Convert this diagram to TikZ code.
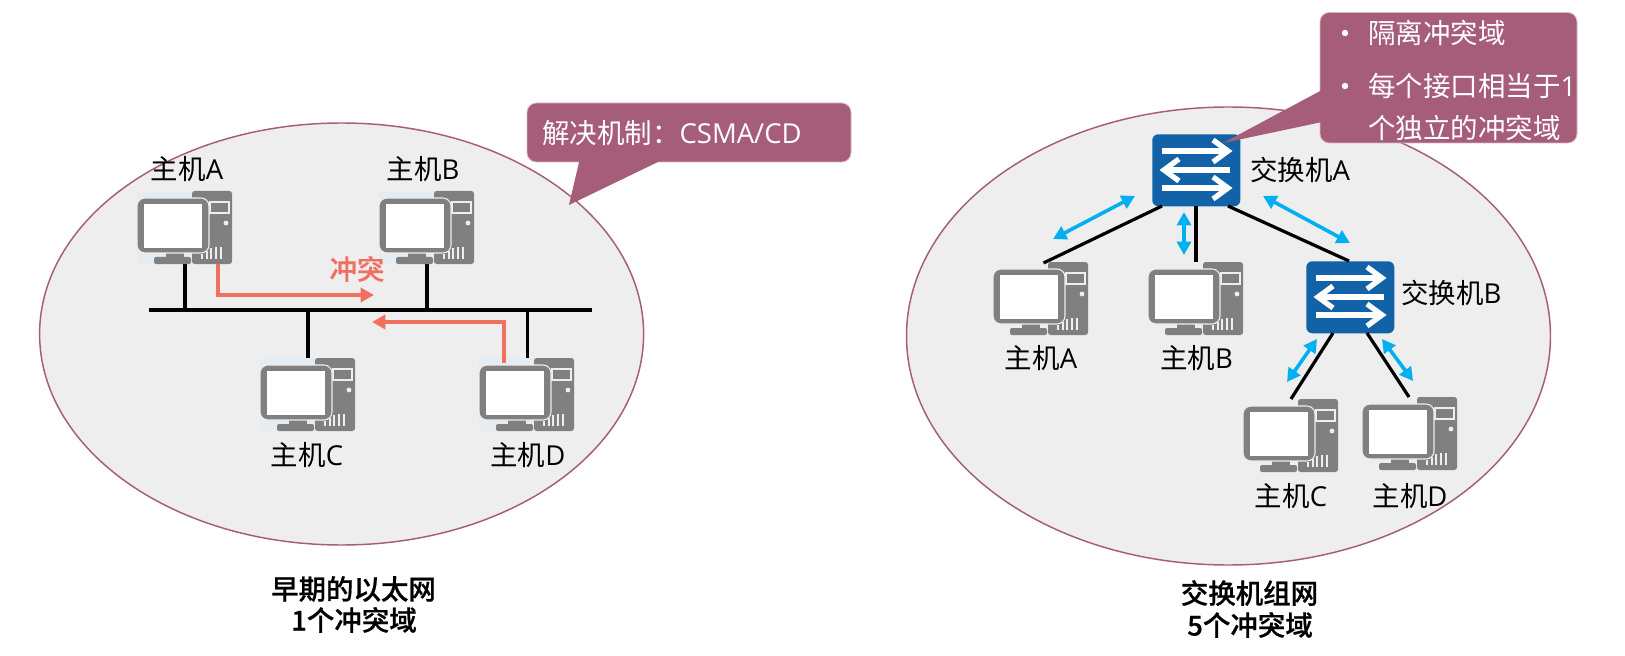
\documentclass[tikz,border=0pt]{standalone}
\usepackage{fontspec}
\setmainfont{Noto Sans CJK SC}
\newfontfamily\capfont[UprightFont={* Medium},FakeBold=0.6]{Noto Sans CJK SC}
\newfontfamily\lat{Open Sans}
\usetikzlibrary{arrows.meta}
\definecolor{plum}{HTML}{A65D7A}
\definecolor{dombg}{HTML}{EEEEEE}
\definecolor{pcgray}{HTML}{808080}
\definecolor{pctint}{HTML}{E6EDF2}
\definecolor{swblue}{HTML}{1262A8}
\definecolor{flowc}{HTML}{00B0F0}
\definecolor{clash}{HTML}{F0705F}
\tikzset{
  x=0.75pt,y=-0.75pt,
  domainshape/.style={draw=plum,line width=1.1pt,fill=dombg},
  lbl/.style={font=\fontsize{20.6}{24}\selectfont,text=black,inner sep=0pt},
  captext/.style={font=\fontsize{20.6}{24}\selectfont\capfont,text=black,inner sep=0pt},
  calltext/.style={font=\fontsize{20.6}{24}\selectfont,text=white,inner sep=0pt,anchor=west},
  callbox/.style={fill=plum,draw=plum!45!white,line width=0.6pt,rounded corners=7pt},
  wire/.style={draw=black,line width=2.4pt},
  busline/.style={draw=black,line width=3.7pt},
  clasharrow/.style={draw=clash,line width=3.5pt,-{Triangle[length=10pt,width=10.5pt]}},
  flowarrow/.style={draw=flowc,line width=2.7pt,{Triangle[length=10pt,width=10.5pt]}-{Triangle[length=10pt,width=10.5pt]}},
  swbox/.style={fill=swblue,rounded corners=4.5pt,minimum width=66pt,minimum height=54pt,inner sep=0pt,anchor=north west},
  swarrow/.style={draw=white,line width=4pt},
  pc/.pic={
    \fill[pcgray,rounded corners=2pt] (55,0) rectangle (95,73);
    \draw[dombg,line width=.9pt] (73,11) rectangle (92,22);
    \fill[dombg] (89,32) circle (2.4);
    \foreach \xx/\yy in {65/63,70/60,74/57,79/56,84/56}{
      \draw[dombg,line width=1.1pt] (\xx,\yy) -- (\xx,68);}
    \fill[pcgray] (29,60) rectangle (47,68);
    \fill[pcgray,rounded corners=1.5pt] (17,66) rectangle (54,73);
    \filldraw[fill=pcgray,draw=dombg,line width=.8pt,rounded corners=6pt] (0,7) rectangle (72,62);
    \fill[white] (7,13) rectangle (65,57);
  },
  pcbg/.pic={
    \fill[pctint] (0,0) rectangle (56,73);
    \pic at (0,0) {pc};
  },
  swsign/.pic={
    \draw[swarrow] (10,17) -- (76,17);
    \draw[swarrow,line join=miter] (61,6) -- (76,17) -- (61,28);
    \draw[swarrow] (78,36) -- (12,36);
    \draw[swarrow,line join=miter] (27,25) -- (12,36) -- (27,47);
    \draw[swarrow] (10,54) -- (76,54);
    \draw[swarrow,line join=miter] (61,43) -- (76,54) -- (61,65);
  }
}
\begin{document}
\begin{tikzpicture}
\useasboundingbox (0,0) rectangle (1625,656);
% domains
\draw[domainshape] (341.6,334) ellipse [x radius=302,y radius=211];
\draw[domainshape] (1228.5,336) ellipse [x radius=322,y radius=229];

% ---------- left network
\coordinate (busL) at (149,310);
\coordinate (busR) at (592,310);
\coordinate (jA) at (185,310);
\coordinate (jB) at (427,310);
\coordinate (jC) at (308,310);
\coordinate (jD) at (527.5,310);
\coordinate (pA) at (185,264);
\coordinate (pB) at (427,264);
\coordinate (pC) at (308,358);
\coordinate (pD) at (527.5,358);
\draw[wire] (jA) -- (pA);
\draw[wire] (jB) -- (pB);
\draw[wire] (jC) -- (pC);
\draw[wire] (jD) -- (pD);
\draw[busline] (busL) -- (busR);
\pic at (137,191) {pcbg};
\pic at (379,191) {pcbg};
\pic at (260,358) {pcbg};
\pic at (479,358) {pcbg};
\coordinate (cs1) at (218,264);
\coordinate (ce1) at (374,295);
\coordinate (cs2) at (504,363);
\coordinate (ce2) at (372,322);
\draw[clasharrow] (cs1) |- (ce1);
\draw[clasharrow] (cs2) |- (ce2);
\node[lbl] (la) at (187,169) {主机{\lat A}};
\node[lbl] (lb) at (423,169) {主机{\lat B}};
\node[lbl] (lc) at (307,455) {主机{\lat C}};
\node[lbl] (ld) at (528,455) {主机{\lat D}};
\node[lbl,text=clash,font=\fontsize{20.6}{24}\selectfont\capfont] (lclash) at (357,269) {冲突};
\node[captext] (c1a) at (353.5,589) {早期的以太网};
\node[captext] (c1b) at (354,620) {1个冲突域};

% callout 1
\draw[callbox] (527,103) rectangle (851,162);
\fill[plum] (580,158) -- (569,205) -- (660,161) -- (660,158) -- cycle;
\node[calltext] (t1) at (542,133) {解决机制：{\lat CSMA/CD}};

% ---------- right network
\node[swbox] (swa) at (1152,134) {};
\node[swbox] (swb) at (1306,261) {};
\pic at (1152,134) {swsign};
\pic at (1306,261) {swsign};
\coordinate (a1) at (1162,206);
\coordinate (a2) at (1196,206);
\coordinate (a3) at (1228,206);
\coordinate (ha) at (1043.5,263);
\coordinate (hb) at (1196,262);
\coordinate (sb) at (1349,261);
\coordinate (b1) at (1333,333);
\coordinate (b2) at (1367,333);
\coordinate (hc) at (1291,399);
\coordinate (hd) at (1409,397);
\draw[wire] (a1) -- (ha);
\draw[wire] (a2) -- (hb);
\draw[wire] (a3) -- (sb);
\draw[wire] (b1) -- (hc);
\draw[wire] (b2) -- (hd);
\pic at (993,262) {pc};
\pic at (1148,262) {pc};
\pic at (1243,399) {pc};
\pic at (1362,397) {pc};
\coordinate (f1s) at (1053,239);
\coordinate (f1e) at (1135,196);
\coordinate (f2s) at (1184,212);
\coordinate (f2e) at (1184,255);
\coordinate (f3s) at (1263,196);
\coordinate (f3e) at (1350,243);
\coordinate (f4s) at (1317,339);
\coordinate (f4e) at (1287,382);
\coordinate (f5s) at (1382,339);
\coordinate (f5e) at (1413,381);
\draw[flowarrow] (f1s) -- (f1e);
\draw[flowarrow] (f2s) -- (f2e);
\draw[flowarrow] (f3s) -- (f3e);
\draw[flowarrow] (f4s) -- (f4e);
\draw[flowarrow] (f5s) -- (f5e);
\node[lbl,anchor=west] (lsa) at (1250,170) {交换机{\lat A}};
\node[lbl,anchor=west] (lsb) at (1401,293) {交换机{\lat B}};
\node[lbl] (ra) at (1041,358) {主机{\lat A}};
\node[lbl] (rb) at (1196.5,358) {主机{\lat B}};
\node[lbl] (rc) at (1291,496) {主机{\lat C}};
\node[lbl] (rd) at (1410,496) {主机{\lat D}};
\node[captext] (c2a) at (1249.5,593) {交换机组网};
\node[captext] (c2b) at (1250,625) {5个冲突域};

% callout 2
\draw[callbox] (1320,12.5) rectangle (1577,143);
\fill[plum] (1322,90) -- (1223,143) -- (1322,122) -- cycle;
\fill[white] (1345,33) circle (3.2);
\fill[white] (1345,86) circle (3.2);
\node[calltext] (t2) at (1368,33) {隔离冲突域};
\node[calltext] (t3) at (1368,86) {每个接口相当于{\lat 1}};
\node[calltext] (t4) at (1368,128) {个独立的冲突域};
\end{tikzpicture}
\end{document}
